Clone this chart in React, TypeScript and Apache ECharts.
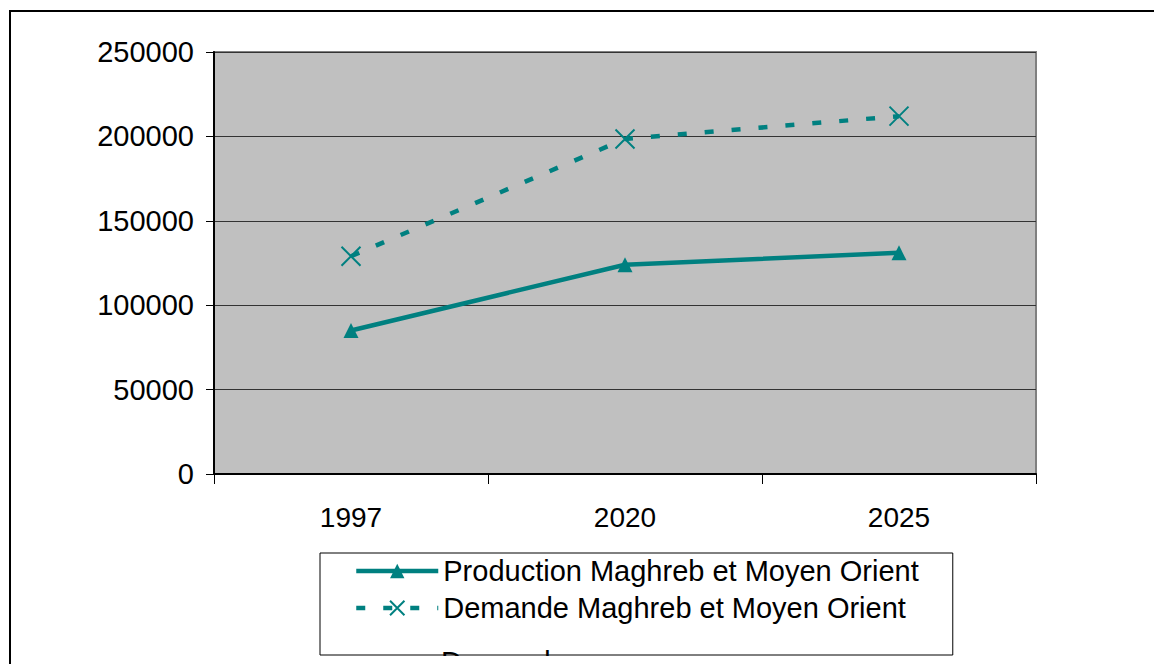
import React, { useEffect, useRef } from "react";
import * as echarts from "echarts";

const categories = ["1997", "2020", "2025"];
const production = [85000, 124000, 131000];
const demande = [129000, 198500, 212000];
const seriesNames = [
  "Production Maghreb et Moyen Orient",
  "Demande Maghreb et Moyen Orient",
];
const clippedLegendText = "Demande";

const TEAL = "#008080";
const FONT = "'Liberation Sans', Arial, sans-serif";

export default function App() {
  const ref = useRef<HTMLDivElement>(null);
  useEffect(() => {
    if (!ref.current) return;
    const chart = echarts.init(ref.current, null, { renderer: "svg" });
    chart.setOption({
      animation: false,
      backgroundColor: "#fff",
      grid: {
        left: 214,
        top: 52,
        right: 118,
        bottom: 190,
        show: true,
        backgroundColor: "#C0C0C0",
        borderColor: "#808080",
        borderWidth: 2,
      },
      xAxis: {
        type: "category",
        data: categories,
        boundaryGap: true,
        axisLine: { lineStyle: { color: "#000", width: 2 } },
        axisTick: { show: true, length: 10, inside: false, lineStyle: { color: "#000", width: 1 } },
        axisLabel: { color: "#000", fontSize: 28, fontFamily: FONT, margin: 29 },
        splitLine: { show: false },
      },
      yAxis: {
        type: "value",
        min: 0,
        max: 250000,
        interval: 50000,
        axisLine: { show: true, lineStyle: { color: "#000", width: 2 } },
        axisTick: { show: true, length: 8, lineStyle: { color: "#000", width: 1 } },
        axisLabel: {
          color: "#000",
          fontSize: 29,
          fontFamily: FONT,
          margin: 20,
          formatter: (v: number) => String(v),
        },
        splitLine: { show: true, lineStyle: { color: "#333", width: 1 } },
      },
      legend: {
        orient: "vertical",
        left: 320,
        top: 553,
        itemWidth: 82,
        itemHeight: 18,
        itemGap: 7,
        padding: [3, 34, 32, 34],
        borderColor: "#000",
        borderWidth: 1,
        backgroundColor: "#fff",
        selectedMode: false,
        lineStyle: { width: "inherit" },
        textStyle: { color: "#000", fontSize: 29, fontFamily: FONT, lineHeight: 30 },
        data: seriesNames,
      },
      series: [
        {
          name: seriesNames[0],
          type: "line",
          data: production,
          symbol: "triangle",
          symbolSize: 15,
          lineStyle: { color: TEAL, width: 4.5 },
          itemStyle: { color: TEAL },
          z: 3,
        },
        {
          name: seriesNames[1],
          type: "line",
          data: demande,
          symbol: "path://M0,0L10,10M10,0L0,10",
          symbolSize: 19,
          lineStyle: { color: TEAL, width: 4.5, type: [9, 18] },
          itemStyle: { color: TEAL, borderColor: TEAL, borderWidth: 2 },
          z: 3,
        },
      ],
      graphic: [
        {
          type: "text",
          left: 441,
          top: 647,
          z: 10,
          style: { text: clippedLegendText, fill: "#000", fontSize: 29, fontFamily: FONT },
        },
        {
          type: "rect",
          shape: { x: 300, y: 656, width: 700, height: 20 },
          style: { fill: "#fff" },
          z: 11,
        },
        {
          type: "rect",
          shape: { x: 10, y: 11, width: 1400, height: 900 },
          style: { fill: "none", stroke: "#000", lineWidth: 2 },
          z: 12,
          silent: true,
        },
      ],
    });
    return () => chart.dispose();
  }, []);
  return (
    <div
      ref={ref}
      style={{ position: "absolute", left: 0, top: 0, width: 1154, height: 664 }}
    />
  );
}
